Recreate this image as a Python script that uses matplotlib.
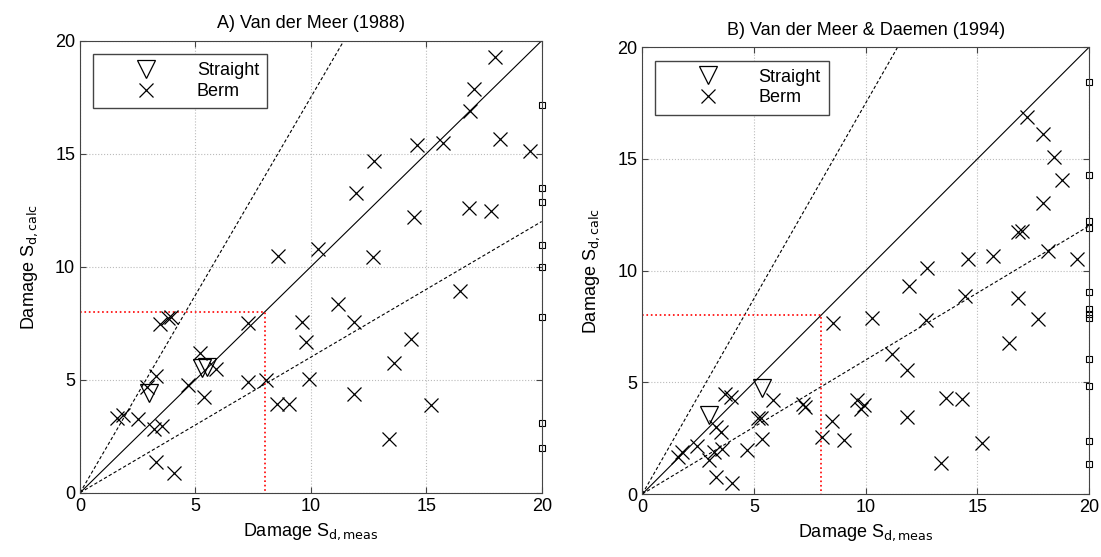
import numpy as np
import matplotlib.pyplot as plt

plt.rcParams['font.family'] = ['Liberation Sans', 'DejaVu Sans']

# A) Van der Meer (1988)
a_berm_meas = [17.97, 17.06, 16.89, 18.18, 19.49, 14.61, 15.72, 12.73, 11.96, 14.45,
               16.85, 17.79, 10.33, 8.56, 12.70, 16.46, 11.18, 11.86, 9.63, 7.26,
               9.78, 14.32, 13.59, 9.93, 8.05, 7.26, 11.86, 15.21, 13.38, 8.53,
               9.04, 5.18, 5.90, 5.38, 4.67, 3.47, 3.79, 3.93, 3.30, 2.89,
               2.49, 1.85, 1.62, 3.21, 3.54, 3.30, 4.05]
a_berm_calc = [19.26, 17.85, 16.89, 15.66, 15.13, 15.38, 15.49, 14.68, 13.24, 12.18,
               12.58, 12.46, 10.78, 10.49, 10.41, 8.94, 8.33, 7.54, 7.57, 7.49,
               6.65, 6.80, 5.72, 5.04, 4.99, 4.91, 4.37, 3.86, 2.36, 3.92,
               3.92, 6.19, 5.46, 4.25, 4.76, 7.45, 7.71, 7.76, 5.16, 4.69,
               3.24, 3.44, 3.29, 2.80, 2.95, 1.37, 0.86]
a_str_meas = [3.0, 5.3, 5.5]
a_str_calc = [4.4, 5.5, 5.55]
a_out_calc = [17.15, 13.47, 12.88, 10.96, 10.0, 7.76, 3.10, 2.0]

# B) Van der Meer & Daemen (1994)
b_berm_meas = [17.24, 17.96, 18.43, 18.81, 17.96, 16.84, 17.01, 18.15, 19.48, 15.72,
               14.60, 12.73, 11.94, 14.45, 16.84, 17.73, 12.70, 10.30, 8.55, 16.43,
               11.16, 11.87, 13.58, 14.33, 9.63, 9.94, 9.78, 11.87, 15.19, 13.36,
               7.21, 7.28, 5.87, 5.19, 5.30, 8.51, 8.06, 9.03, 5.37, 4.67,
               3.70, 3.96, 3.28, 3.51, 2.46, 1.76, 1.61, 2.99, 3.21, 3.58,
               3.28, 4.03]
b_berm_calc = [16.90, 16.12, 15.10, 14.06, 13.01, 11.75, 11.79, 10.90, 10.52, 10.67,
               10.51, 10.13, 9.33, 8.87, 8.79, 7.84, 7.79, 7.90, 7.67, 6.75,
               6.25, 5.55, 4.28, 4.25, 4.21, 3.99, 3.81, 3.46, 2.27, 1.37,
               4.01, 3.91, 4.21, 3.39, 3.39, 3.28, 2.57, 2.42, 2.45, 1.97,
               4.46, 4.36, 2.99, 2.79, 2.15, 1.87, 1.67, 1.52, 1.87, 2.00,
               0.78, 0.48]
b_str_meas = [2.99, 5.34]
b_str_calc = [3.55, 4.75]
b_out_calc = [18.46, 14.28, 12.22, 11.93, 9.03, 8.27, 8.06, 7.87, 6.04, 4.84, 2.37, 1.33]

ticks = [0, 5, 10, 15, 20]


def panel(ax, title, bm, bc, sm, sc, oc):
    xx = np.array([0, 20])
    ax.plot(xx, xx, color='k', lw=0.8)
    ax.plot(xx, 0.6 * xx, color='k', lw=0.8, ls='--', dashes=(3, 2))
    ax.plot(xx, 1.75 * xx, color='k', lw=0.8, ls='--', dashes=(3, 2))
    ax.plot([0, 8, 8], [8, 8, 0], color='red', lw=1.2, ls=':')
    ax.plot(sm, sc, 'v', ms=13, mfc='none', mec='k', mew=0.9, ls='none', label='Straight')
    ax.plot(bm, bc, 'x', ms=10, color='k', mew=0.9, ls='none', label='Berm')
    ax.plot([20] * len(oc), oc, 's', ms=5, mfc='none', mec='k', mew=0.8, clip_on=False)
    ax.set_xlim(0, 20)
    ax.set_ylim(0, 20)
    ax.set_xticks(ticks)
    ax.set_yticks(ticks)
    ax.tick_params(direction='in', top=True, right=True, labelsize=13, length=4, color='#444')
    ax.grid(True, ls=':', color='#bbbbbb', lw=0.8)
    for s in ax.spines.values():
        s.set_color('#444')
    ax.set_title(title, fontsize=13, pad=9)
    ax.set_xlabel('Damage S$_{\\mathrm{d,meas}}$', fontsize=13, labelpad=5)
    ax.set_ylabel('Damage S$_{\\mathrm{d,calc}}$', fontsize=13, labelpad=11)
    leg = ax.legend(loc='upper left', fancybox=False, edgecolor='#444', framealpha=1,
                    fontsize=13, handlelength=5.0, handletextpad=0.3, borderpad=0.45,
                    labelspacing=0.2, borderaxespad=0, bbox_to_anchor=(0.028, 0.97))
    leg.get_frame().set_linewidth(1.0)


fig = plt.figure(figsize=(11.01, 5.57), dpi=100)
ax1 = fig.add_axes([0.0727, 0.1154, 0.4193, 0.8115])
ax2 = fig.add_axes([0.5834, 0.1131, 0.4057, 0.802])

panel(ax1, 'A) Van der Meer (1988)', a_berm_meas, a_berm_calc, a_str_meas, a_str_calc, a_out_calc)
panel(ax2, 'B) Van der Meer & Daemen (1994)', b_berm_meas, b_berm_calc, b_str_meas, b_str_calc, b_out_calc)

fig.savefig('out.png', dpi=100)
